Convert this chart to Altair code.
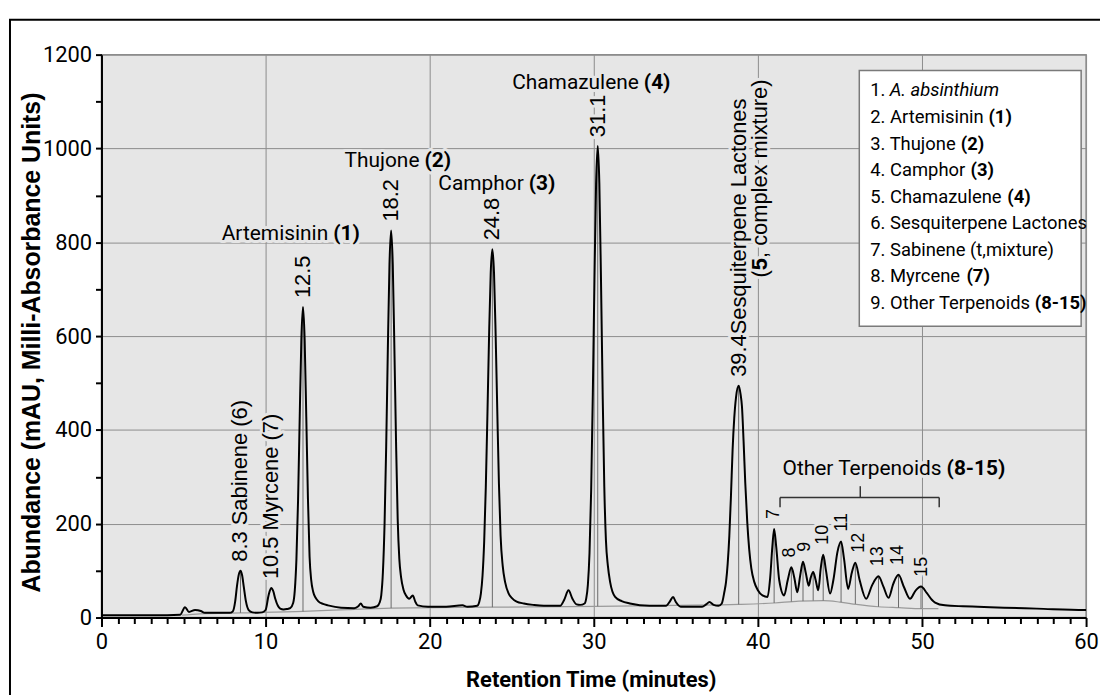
import altair as alt
import pandas as pd

# ---------------- data ----------------
trace_t = [0.0, 1.0, 2.0, 3.0, 4.0, 4.8, 5.09, 5.33, 5.7, 6.05, 6.3, 7.0, 7.8,
           8.0, 8.15, 8.26, 8.37, 8.47, 8.57, 8.67, 8.8, 8.97, 9.2, 9.5, 9.8,
           10.0, 10.18, 10.34, 10.47, 10.59, 10.75, 10.89, 11.1, 11.3, 11.5,
           11.68, 11.78, 11.88, 11.98, 12.08, 12.18, 12.28, 12.38, 12.48, 12.58,
           12.68, 12.78, 12.9, 13.05, 13.2, 13.5, 13.8, 14.6, 15.4, 15.65, 15.8,
           15.95, 16.4, 16.8, 16.95, 17.05, 17.15, 17.25, 17.35, 17.45, 17.55,
           17.65, 17.75, 17.85, 17.95, 18.05, 18.15, 18.26, 18.4, 18.56, 18.75,
           18.97, 19.12, 19.27, 19.9, 21.0, 22.0, 22.3, 22.9, 23.02, 23.12, 23.22,
           23.32, 23.42, 23.52, 23.62, 23.72, 23.82, 23.92, 24.02, 24.12, 24.22,
           24.32, 24.45, 24.6, 24.8, 25.0, 25.3, 25.74, 26.3, 26.95, 27.95, 28.2,
           28.46, 28.7, 28.95, 29.17, 29.44, 29.54, 29.64, 29.74, 29.84, 29.94,
           30.04, 30.14, 30.24, 30.34, 30.44, 30.54, 30.64, 30.74, 30.86, 31.0,
           31.3, 31.7, 32.2, 33.4, 34.4, 34.65, 34.83, 35.0, 35.3, 36.6, 36.85,
           37.05, 37.3, 37.6, 37.8, 37.96, 38.06, 38.16, 38.26, 38.36, 38.46,
           38.56, 38.67, 38.83, 38.95, 39.03, 39.13, 39.23, 39.35, 39.47, 39.6,
           39.78, 40.0, 40.28, 40.59, 40.75, 40.88, 40.99, 41.12, 41.3, 41.6,
           41.82, 42.04, 42.22, 42.4, 42.58, 42.75, 42.92, 43.1, 43.22, 43.37,
           43.52, 43.68, 43.83, 43.98, 44.15, 44.4, 44.6, 44.85, 45.07, 45.25,
           45.5, 45.72, 45.94, 46.2, 46.6, 46.95, 47.35, 47.65, 47.96, 48.25,
           48.57, 48.9, 49.27, 49.6, 49.94, 50.3, 50.6, 50.8, 51.4, 52.5, 53.4,
           55.0, 57.0, 59.9, 60.0]
trace_v = [5, 5, 5, 5, 5, 6, 22, 12, 16, 14, 10, 10, 10,
           13, 35, 68, 92, 100, 90, 66, 35, 16, 11, 10, 11,
           16, 47, 63, 56, 40, 25, 19, 17, 18, 20,
           31, 58, 125, 251, 428, 593, 662, 593, 428, 255,
           130, 80, 55, 42, 35, 29, 26, 21, 20, 24, 30,
           23, 21, 24, 32, 48, 97, 199, 365, 572, 753,
           825, 753, 572, 375, 210, 125, 85, 60, 47, 40,
           47, 34, 26, 23, 23, 26, 23, 25, 33, 51, 89,
           161, 278, 435, 602, 735, 785, 735, 602, 440, 285,
           175, 110, 75, 52, 42, 34, 30, 27, 25, 25, 38,
           58, 40, 28, 27, 30, 41, 70, 138, 271, 475,
           718, 924, 1005, 924, 718, 480, 280, 165, 110, 75,
           44, 35, 30, 25, 25, 35, 44, 33, 23, 23, 28,
           33, 27, 25, 30, 55, 76, 115, 174, 260, 358,
           425, 470, 494, 475, 450, 375, 288, 205, 146, 105,
           76, 58, 47, 44, 85, 150, 189, 150, 80, 47,
           80, 107, 85, 54, 90, 119, 95, 68, 85, 97,
           80, 58, 105, 134, 100, 51, 80, 140, 162, 125,
           61, 95, 117, 80, 40, 68, 88, 66, 42, 72,
           91, 65, 40, 57, 66, 52, 38, 32, 26, 24, 23,
           21, 19, 16, 16]

base_t = [4.9, 6.0, 8.47, 12.28, 15.0, 17.65, 23.82, 30.24, 35.0, 38.83, 41.0,
          42.5, 44.0, 45.0, 46.0, 47.35, 48.6, 50.0, 51.0]
base_v = [5, 8, 10, 13, 17, 20, 22, 24, 26, 28, 31, 35, 36, 33, 28, 23, 21, 19, 19]

peak_t = [8.47, 12.28, 17.65, 23.82, 30.24, 38.83, 40.99, 42.04, 42.75, 43.37,
          43.98, 45.07, 45.94, 47.35, 48.57, 49.94]
peak_apex = [100, 662, 825, 785, 1005, 494, 189, 107, 119, 97, 134, 162, 117, 88, 91, 66]
peak_base = [10, 13, 20, 22, 24, 28, 31, 34, 35, 36, 36, 33, 29, 23, 21, 19]

# rotated peak labels
rot_t = [8.47, 10.34, 12.28, 17.65, 23.82, 30.24, 38.83]
rot_v = [100, 63, 662, 825, 785, 1005, 494]
rot_s = ["8.3  Sabinene (6)", "10.5 Myrcene (7)", "12.5", "18.2", "24.8", "31.1",
         "39.4Sesquiterpene Lactones"]
sesq2_parts = ["(", "5", ", complex mixture)"]

num_t = [40.99, 41.93, 42.87, 43.96, 45.13, 46.14, 47.35, 48.52, 49.98]
num_v = [189, 107, 119, 134, 162, 117, 88, 91, 66]
num_s = ["7", "8", "9", "10", "11", "12", "13", "14", "15"]

# horizontal compound names (regular part + bold number)
name_t = [14.12, 19.68, 26.04, 33.05, 51.5]
name_v = [818, 973, 924, 1139, 316]
name_reg = ["Artemisinin", "Thujone", "Camphor", "Chamazulene", "Other Terpenoids"]
name_bold = ["(1)", "(2)", "(3)", "(4)", "(8-15)"]

# bracket over peaks 8-15
br_t = [41.35, 41.35, 51.05, 46.24]
br_t2 = [51.05, 41.35, 51.05, 46.24]
br_v = [256, 256, 256, 256]
br_v2 = [256, 235, 235, 280]

# legend box
leg_box = {"t": [46.18], "t2": [59.7], "v": [621], "v2": [1166]}
leg_start = 46.85
leg_v = [1124, 1067, 1010, 954, 897, 840, 784, 727, 670]
leg_reg = ["1. ", "2. Artemisinin", "3. Thujone", "4. Camphor", "5. Chamazulene",
           "6. Sesquiterpene Lactones", "7. Sabinene (t,mixture)", "8. Myrcene",
           "9. Other Terpenoids"]
leg_it = {"t": [48.03], "v": [1124], "s": ["A.  absinthium"]}
leg_bold_t = [54.05, 52.36, 52.96, 55.20, 52.71, 56.87]
leg_bold_v = [1067, 1010, 954, 897, 727, 670]
leg_bold_s = ["(1)", "(2)", "(3)", "(4)", "(7)", "(8-15)"]

# ---------------- styling ----------------
BG = "#e6e6e6"
GRID = "#8c8c8c"
NARROW = "Roboto, Liberation Sans, sans-serif"
REG = "Liberation Sans, Arial, sans-serif"

xs = alt.Scale(domain=[0, 60], nice=False, zero=False)
ys = alt.Scale(domain=[0, 1200], nice=False, zero=False)

x_axis = alt.Axis(
    values=list(range(0, 61)), format="d",
    labelExpr="datum.value % 10 === 0 ? datum.label : ''",
    title="Retention Time (minutes)",
    grid=True, gridColor=GRID, gridWidth=1,
    gridOpacity={"condition": {"test": "datum.value % 10 === 0", "value": 1}, "value": 0},
    tickSize={"condition": {"test": "datum.value % 10 === 0", "value": 9}, "value": 6},
    tickWidth=2, tickColor="black", domainColor="black", domainWidth=2,
    labelFont=NARROW, labelFontSize=22, labelColor="black", labelPadding=5,
    labelOverlap=False, labelFlush=False,
    titleFont=NARROW, titleFontSize=22, titleFontWeight="bold", titleColor="black",
    titleY=62, titleX=492, titleBaseline="middle",
)
y_axis = alt.Axis(
    values=list(range(0, 1201, 100)), format="d",
    labelExpr="datum.value % 200 === 0 ? datum.label : ''",
    title="Abundance (mAU, Milli-Absorbance Units)",
    grid=True, gridColor=GRID, gridWidth=1,
    gridOpacity={"condition": {"test": "datum.value % 200 === 0", "value": 1}, "value": 0},
    tickSize=6, tickWidth=2, tickColor="black", domainColor="black", domainWidth=2,
    labelFont=NARROW, labelFontSize=22, labelColor="black", labelPadding=4,
    labelOverlap=False, labelFlush=False,
    titleFont=REG, titleFontSize=25, titleFontWeight="bold", titleColor="black",
    titleX=-70, titleY=289, titleAngle=270, titleAlign="center", titleBaseline="middle",
)


def X(f="t"):
    return alt.X(f, type="quantitative", scale=xs, axis=x_axis)


def Y(f="v"):
    return alt.Y(f, type="quantitative", scale=ys, axis=y_axis)


def texts(df, halo=BG, halo_w=6, **kw):
    enc = dict(x=X(), y=Y(), text=alt.Text("s:N"))
    out = []
    if halo:
        out.append(alt.Chart(df).mark_text(fill=halo, stroke=halo, strokeWidth=halo_w,
                                           strokeJoin="round", **kw).encode(**enc))
    out.append(alt.Chart(df).mark_text(fill="black", **kw).encode(**enc))
    return out


trace_df = pd.DataFrame({"t": trace_t, "v": trace_v})
base_df = pd.DataFrame({"t": base_t, "v": base_v})
peak_df = pd.DataFrame({"t": peak_t, "v": peak_apex, "v2": peak_base})

layers = []

# outer frame of the figure
layers.append(
    alt.Chart(pd.DataFrame({"a": [0]})).mark_rect(fillOpacity=0, stroke="black", strokeWidth=2)
    .encode(x=alt.value(-92), x2=alt.value(1120), y=alt.value(-35), y2=alt.value(720))
)
# fitted baseline
layers.append(alt.Chart(base_df).mark_line(color="#9a9a9a", strokeWidth=1.2, interpolate="monotone")
              .encode(x=X(), y=Y()))
# drop lines
layers.append(alt.Chart(peak_df).mark_rule(color="#6a6a6a", strokeWidth=1)
              .encode(x=X(), y=Y(), y2="v2:Q"))
# chromatogram
layers.append(alt.Chart(trace_df).mark_line(color="black", strokeWidth=2, interpolate="monotone")
              .encode(x=X(), y=Y()))
# bracket
layers.append(alt.Chart(pd.DataFrame({"t": br_t, "t2": br_t2, "v": br_v, "v2": br_v2}))
              .mark_rule(color="#333333", strokeWidth=1.5)
              .encode(x=X(), x2="t2:Q", y=Y(), y2="v2:Q"))

# rotated labels
layers += texts(pd.DataFrame({"t": rot_t, "v": rot_v, "s": rot_s}), angle=270, align="left",
                baseline="middle", dx=9, font=REG, fontSize=22)
sesq_row = {"t": [38.83], "v": [494]}
for part, off, wt in zip(sesq2_parts, [109, 116.3, 128.5], ["normal", "bold", "normal"]):
    layers += texts(pd.DataFrame({**sesq_row, "s": [part]}), angle=270, align="left",
                    baseline="middle", dx=off, dy=21, font=REG, fontSize=22, fontWeight=wt)
layers += texts(pd.DataFrame({"t": num_t, "v": num_v, "s": num_s}), angle=270, align="left",
                baseline="middle", dx=10, font=REG, fontSize=18)

# horizontal names
layers += texts(pd.DataFrame({"t": name_t, "v": name_v, "s": name_reg}), align="right",
                baseline="middle", dx=-5, font=NARROW, fontSize=21)
layers += texts(pd.DataFrame({"t": name_t, "v": name_v, "s": name_bold}), align="left",
                baseline="middle", font=NARROW, fontSize=21, fontWeight="bold")

# legend box
layers.append(alt.Chart(pd.DataFrame(leg_box)).mark_rect(fill="white", stroke="#7a7a7a", strokeWidth=1.5)
              .encode(x=X(), x2="t2:Q", y=Y(), y2="v2:Q"))
layers += texts(pd.DataFrame({"t": [leg_start] * len(leg_v), "v": leg_v, "s": leg_reg}), halo=None,
                align="left", baseline="middle", font=NARROW, fontSize=18.5)
layers += texts(pd.DataFrame(leg_it), halo=None, align="left", baseline="middle", font=NARROW,
                fontSize=18.5, fontStyle="italic")
layers += texts(pd.DataFrame({"t": leg_bold_t, "v": leg_bold_v, "s": leg_bold_s}), halo=None,
                align="left", baseline="middle", font=NARROW, fontSize=18.5, fontWeight="bold")

chart = alt.layer(*layers).properties(
    width=990, height=566,
    autosize=alt.AutoSizeParams(type="none"),
    padding={"left": 94, "top": 45, "right": 14, "bottom": 76},
    background="white",
).configure_view(fill=BG, stroke="#8c8c8c", strokeWidth=1.5)

chart.save("out.html", embed_options={"renderer": "svg", "actions": False})
